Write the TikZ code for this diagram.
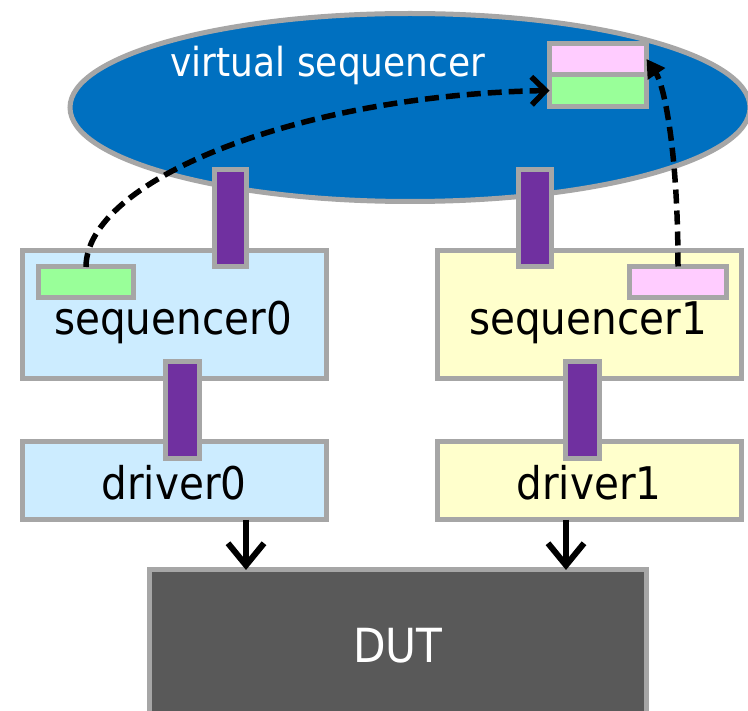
\documentclass[tikz,border=0pt]{standalone}
\usepackage{fontspec}
\setmainfont{DejaVu Sans}[FakeStretch=0.9]
\usetikzlibrary{shapes.geometric,arrows.meta}
\definecolor{vsblue}{HTML}{0070C0}
\definecolor{bordergray}{HTML}{A6A6A6}
\definecolor{barpurple}{HTML}{7030A0}
\definecolor{seqblue}{HTML}{CCECFF}
\definecolor{seqyellow}{HTML}{FFFFCC}
\definecolor{itpink}{HTML}{FFCCFF}
\definecolor{itgreen}{HTML}{99FF99}
\definecolor{dutgray}{HTML}{595959}
\tikzset{
  boxbase/.style={draw=bordergray, line width=5pt, inner sep=0pt, outer sep=0pt, rectangle},
  bigbox/.style={boxbase, minimum width=304pt},
  barbox/.style={boxbase, line width=5pt, fill=barpurple, minimum width=32pt, minimum height=97pt},
  itembox/.style={boxbase, line width=5pt, minimum width=96pt, minimum height=31pt},
  lbl/.style={font=\fontsize{45}{50}\selectfont, anchor=base, inner sep=0pt},
  dasharr/.style={line width=5.5pt, dash pattern=on 14pt off 7pt},
  downarr/.style={line width=6pt, -{Straight Barb[length=22pt,width=36pt,line width=6pt]}}
}
\begin{document}
\begin{tikzpicture}[x=1pt,y=-1pt]
\useasboundingbox (0,0) rectangle (748,711);
\clip (0,0) rectangle (748,711);
% virtual sequencer
\node (vs) [ellipse, draw=bordergray, fill=vsblue, line width=5pt, inner sep=0pt,
  minimum width=680pt, minimum height=188pt] at (410,107.5) {};
\node (vslbl) [font=\fontsize{40}{44}\selectfont, text=white, anchor=base, inner sep=0pt] at (328,77) {virtual sequencer};
\node (vpink) [itembox, fill=itpink, minimum width=97pt, minimum height=31pt] at (598,59) {};
\node (vgreen) [itembox, fill=itgreen, minimum width=97pt, minimum height=32pt] at (598,90.5) {};
% sequencers and drivers
\node (s0) [bigbox, fill=seqblue, minimum height=128pt] at (174,315) {};
\node (s1) [bigbox, fill=seqyellow, minimum height=128pt] at (589.5,315) {};
\node (d0) [bigbox, fill=seqblue, minimum height=78pt] at (174,481) {};
\node (d1) [bigbox, fill=seqyellow, minimum height=78pt] at (589.5,481) {};
\node (s0lbl) [lbl] at (173,335) {sequencer0};
\node (s1lbl) [lbl] at (588,335) {sequencer1};
\node (d0lbl) [lbl] at (174,500) {driver0};
\node (d1lbl) [lbl] at (589,500) {driver1};
% items in sequencers
\node (g0) [itembox, fill=itgreen, minimum width=95pt, minimum height=31pt] at (86,282.5) {};
\node (p1) [itembox, fill=itpink, minimum width=97pt, minimum height=31pt] at (678,282) {};
% connection bars
\node (b0) [barbox] at (230,218.5) {};
\node (b1) [barbox, minimum width=33pt] at (534.5,218.5) {};
\node (b2) [barbox, minimum width=34pt] at (182,410.5) {};
\node (b3) [barbox, minimum width=34pt] at (582,410.5) {};
% DUT
\node (dut) [boxbase, fill=dutgray, minimum width=497pt, minimum height=200pt, anchor=north west] at (149,570) {};
\node (dutlbl) [font=\fontsize{47}{50}\selectfont, text=white, anchor=base, inner sep=0pt] at (398,662) {DUT};
% arrows
\coordinate (a0) at (246,0);
\coordinate (a1) at (566,0);
\draw[downarr] (d0.south -| a0) -- (dut.north -| a0);
\draw[downarr] (d1.south -| a1) -- (dut.north -| a1);
\draw[dasharr, -{Straight Barb[length=14pt,width=28pt,line width=5.5pt]}]
  (g0.north) .. controls (86,180) and (300,95) .. (vgreen.west);
\draw[dasharr, -{Triangle[length=18pt,width=20pt]}]
  (p1.north) .. controls (678,150) and (664,85) .. (vpink.east);
\end{tikzpicture}
\end{document}
